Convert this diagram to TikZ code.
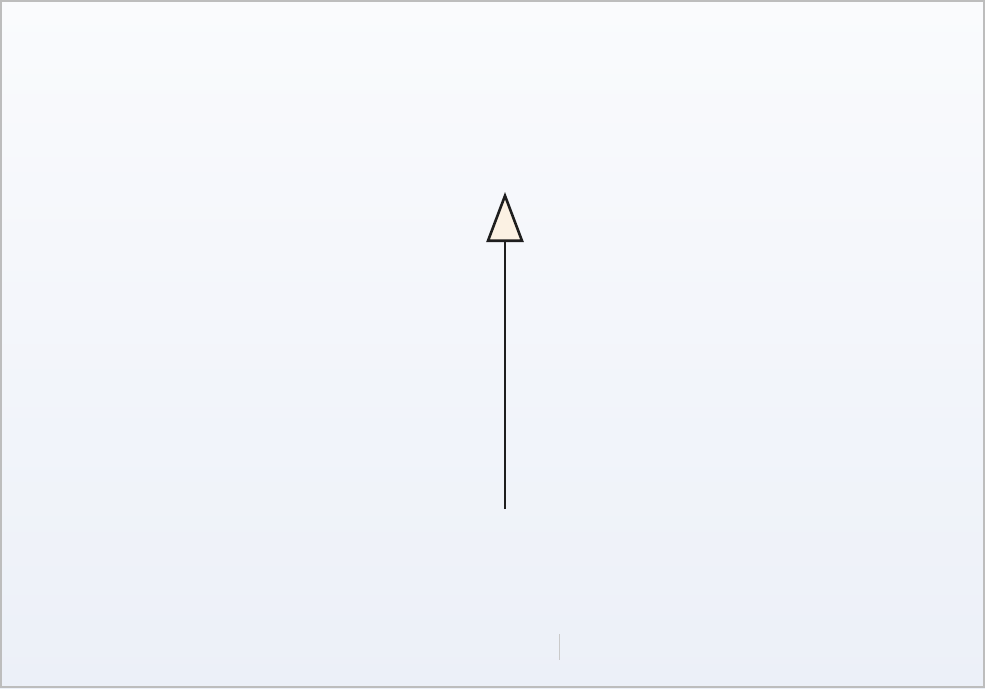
\documentclass[tikz,border=0pt]{standalone}
\usetikzlibrary{arrows.meta}
\definecolor{bgtop}{HTML}{FAFBFD}
\definecolor{bgbot}{HTML}{ECF0F8}
\definecolor{frame}{HTML}{BDBDBD}
\definecolor{headfill}{HTML}{FBF1E3}
\definecolor{linecol}{HTML}{1E1E1E}
\tikzset{
  inherit/.style={draw=linecol, line width=2.6pt,
    -{Triangle[width=37pt,length=50pt,fill=headfill,line join=miter]}},
  tick/.style={draw=frame!80, line width=1pt}
}
\begin{document}
\begin{tikzpicture}[x=1pt,y=-1pt]
  \useasboundingbox (0,0) rectangle (985,688);
  \shade[top color=bgtop, bottom color=bgbot] (0,0) rectangle (985,688);
  \draw[frame, line width=2pt] (1,1) rectangle (984,687);
  \coordinate (src) at (505,509);
  \coordinate (tgt) at (505,192);
  \draw[inherit] (src) -- (tgt);
  \coordinate (ticka) at (559,634);
  \coordinate (tickb) at (559,660);
  \draw[tick] (ticka) -- (tickb);
\end{tikzpicture}
\end{document}
